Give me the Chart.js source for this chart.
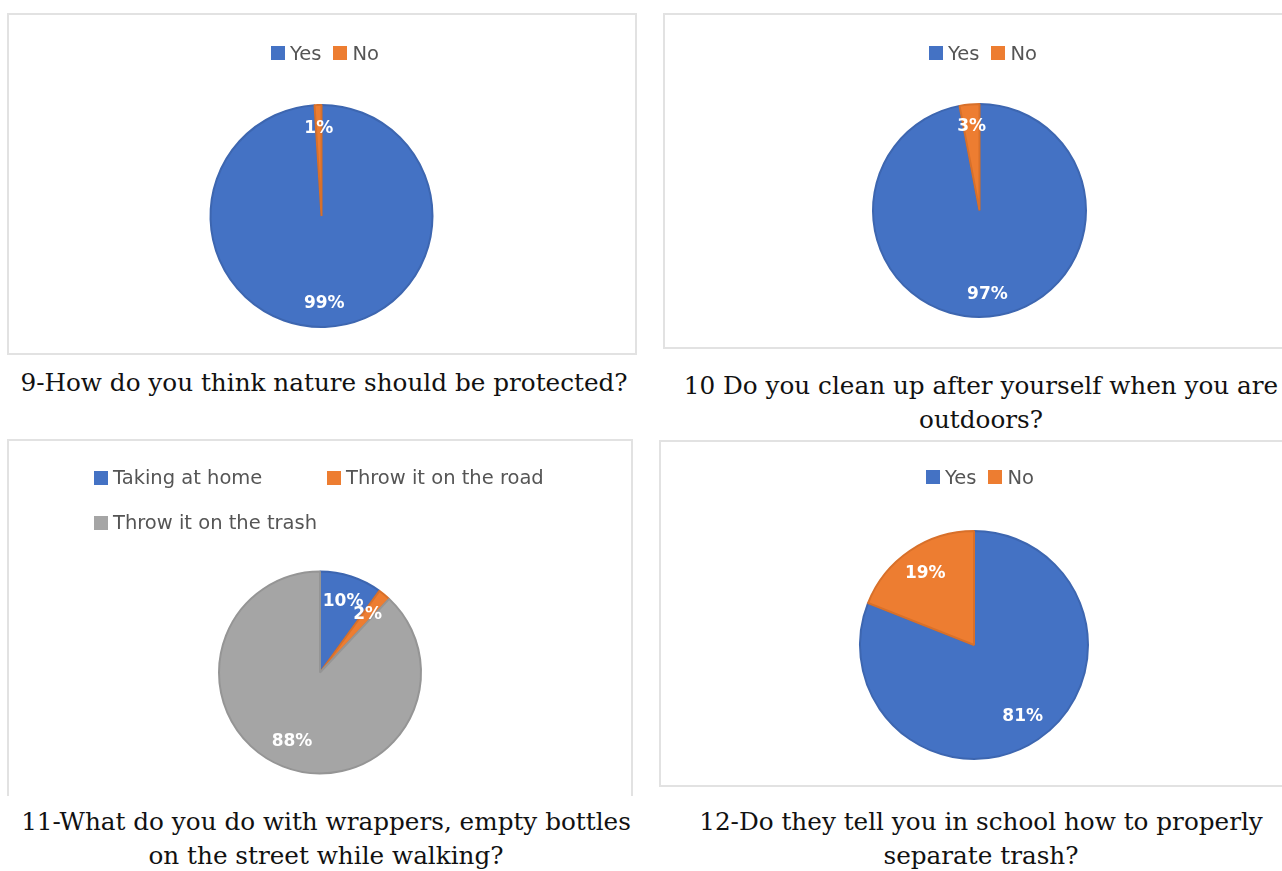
<!DOCTYPE html>
<html>
<head>
<meta charset="utf-8">
<title>Survey results</title>
<script src="https://cdn.jsdelivr.net/npm/chart.js@4/dist/chart.umd.min.js"></script>
<style>
  html, body { margin: 0; padding: 0; background: #fff; }
  body { width: 1282px; height: 871px; position: relative; overflow: hidden; }
  .frame { position: absolute; border: 2px solid #e2e2e2; box-sizing: border-box; }
  .pie { position: absolute; filter: blur(0.6px); }
  .legend { position: absolute; font: 19.5px "DejaVu Sans", sans-serif; color: #555; filter: blur(0.5px); }
  .legend.row { display: flex; justify-content: center; align-items: center; height: 24px; }
  .legend.row .item { margin: 0 6px; }
  .legend.grid { display: grid; grid-template-columns: 233px 233px; grid-auto-rows: 45px; align-items: center; }
  .item { display: flex; align-items: center; white-space: nowrap; }
  .swatch { width: 14px; height: 14px; margin-right: 5px; }
  .caption { position: absolute; font: 24.7px "DejaVu Serif", serif; color: #111; text-align: center; white-space: nowrap; line-height: 34px; }
</style>
</head>
<body>

<!-- chart frames -->
<div class="frame" style="left:7px; top:13px; width:630px; height:342px;"></div>
<div class="frame" style="left:663px; top:13px; width:640px; height:336px;"></div>
<div class="frame" style="left:7px; top:439px; width:626px; height:357px; border-bottom:none;"></div>
<div class="frame" style="left:659px; top:440px; width:640px; height:347px;"></div>

<div id="leg9" class="legend row" style="left:125px; top:41px; width:400px;"></div>
<div id="leg10" class="legend row" style="left:783px; top:41px; width:400px;"></div>
<div id="leg11" class="legend grid" style="left:94px; top:455px;"></div>
<div id="leg12" class="legend row" style="left:780px; top:465px; width:400px;"></div>

<div class="pie" style="left:204px; top:99px; width:235px; height:234px;"><canvas id="q9"></canvas></div>
<div class="pie" style="left:867px; top:98px; width:225px; height:225px;"><canvas id="q10"></canvas></div>
<div class="pie" style="left:213px; top:565px; width:214px; height:215px;"><canvas id="q11"></canvas></div>
<div class="pie" style="left:854px; top:525px; width:240px; height:240px;"><canvas id="q12"></canvas></div>

<div class="caption" style="left:4px; width:640px; top:366px;">9-How do you think nature should be protected?</div>
<div class="caption" style="left:661px; width:640px; top:369px;">10 Do you clean up after yourself when you are<br>outdoors?</div>
<div class="caption" style="left:6px; width:640px; top:805px;">11-What do you do with wrappers, empty bottles<br>on the street while walking?</div>
<div class="caption" style="left:661px; width:640px; top:805px;">12-Do they tell you in school how to properly<br>separate trash?</div>

<script>
// answers per question (percent of respondents)
const q9Labels = ["Yes", "No"];
const q9Values = [99, 1];
const q10Labels = ["Yes", "No"];
const q10Values = [97, 3];
const q11Labels = ["Taking at home", "Throw it on the road", "Throw it on the trash"];
const q11Values = [10, 2, 88];
const q12Labels = ["Yes", "No"];
const q12Values = [81, 19];

const sliceColors = ["#4472c4", "#ed7d31", "#a5a5a5"];
const sliceEdges = ["#3d66b0", "#d8702a", "#959595"];

// white percentage text inside each slice
const pctLabels = {
  id: "pctLabels",
  afterDatasetsDraw(chart, args, opts) {
    const { ctx } = chart;
    const meta = chart.getDatasetMeta(0);
    const data = chart.data.datasets[0].data;
    const total = data.reduce((a, b) => a + b, 0);
    ctx.save();
    ctx.font = 'bold 17px "DejaVu Sans", sans-serif';
    ctx.fillStyle = "#fff";
    ctx.textAlign = "center";
    ctx.textBaseline = "middle";
    meta.data.forEach((arc, i) => {
      const p = arc.getProps(["x", "y", "startAngle", "endAngle", "outerRadius"], true);
      const fixed = opts.angles && opts.angles[i] != null;
      const a = fixed ? opts.angles[i] : (p.startAngle + p.endAngle) / 2;
      const r = p.outerRadius * (opts.dist || 0.78);
      ctx.fillText(Math.round(data[i] / total * 100) + "%", p.x + Math.cos(a) * r, p.y + Math.sin(a) * r);
    });
    ctx.restore();
  }
};

function makePie(id, labels, values, radius, labelOpts) {
  const n = values.length;
  return new Chart(document.getElementById(id), {
    type: "pie",
    data: {
      labels: labels,
      datasets: [{
        data: values,
        backgroundColor: sliceColors.slice(0, n),
        borderColor: sliceEdges.slice(0, n),
        borderWidth: 2
      }]
    },
    options: {
      responsive: true,
      maintainAspectRatio: false,
      animation: false,
      radius: radius,
      layout: { padding: 0 },
      plugins: {
        legend: { display: false },
        tooltip: { enabled: false },
        pctLabels: labelOpts || {}
      }
    },
    plugins: [pctLabels]
  });
}

// html legend so the three-item one can sit in two columns
function makeLegend(id, labels) {
  const box = document.getElementById(id);
  labels.forEach((name, i) => {
    const item = document.createElement("div");
    item.className = "item";
    item.innerHTML = `<span class="swatch" style="background:${sliceColors[i]}"></span>${name}`;
    box.appendChild(item);
  });
}

makeLegend("leg9", q9Labels);
makeLegend("leg10", q10Labels);
makeLegend("leg11", q11Labels);
makeLegend("leg12", q12Labels);

makePie("q9", q9Labels, q9Values, 111, { dist: 0.79 });
makePie("q10", q10Labels, q10Values, 106.5, { dist: 0.79 });
makePie("q11", q11Labels, q11Values, 101, { dist: 0.74, angles: [null, null, 112 * Math.PI / 180] });
makePie("q12", q12Labels, q12Values, 114, { dist: 0.76 });
</script>
</body>
</html>
